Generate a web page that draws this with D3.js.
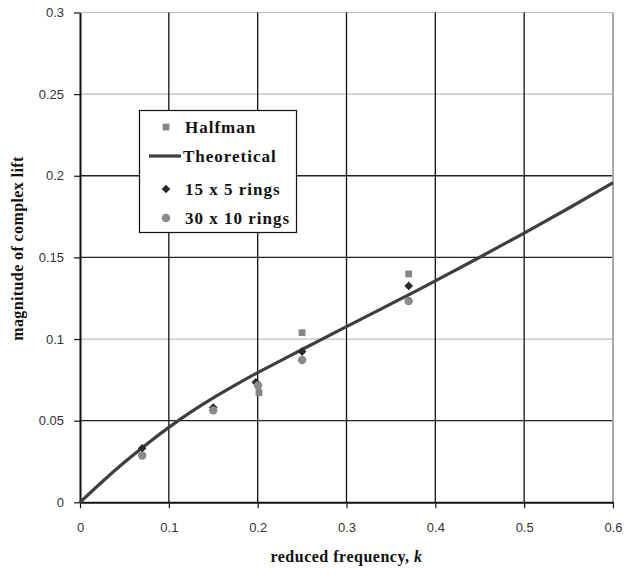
<!DOCTYPE html>
<html><head><meta charset="utf-8">
<script src="https://cdn.jsdelivr.net/npm/d3@7/dist/d3.min.js"></script>
<style>body{margin:0;background:#fff;}svg{display:block;}</style>
</head><body>
<svg id="c" width="627" height="572"></svg>
<script>
const xTicks = [0, 0.1, 0.2, 0.3, 0.4, 0.5, 0.6];
const yTicks = [0, 0.05, 0.1, 0.15, 0.2, 0.25, 0.3];
const yTickLabels = ["0", "0.05", "0.1", "0.15", "0.2", "0.25", "0.3"];
const darkGridY = [0.05, 0.15, 0.2];
const theoK = [0, 0.025, 0.05, 0.075, 0.1, 0.125, 0.15, 0.175, 0.2, 0.25, 0.3, 0.35, 0.4, 0.45, 0.5, 0.55, 0.6];
const theoV = [0, 0.0126, 0.0245, 0.0356, 0.0459, 0.0554, 0.0640, 0.0719, 0.0794, 0.0936, 0.1076, 0.1215, 0.1356, 0.1501, 0.1649, 0.1801, 0.1957];
const halfmanK = [0.2015, 0.25, 0.37];
const halfmanV = [0.0672, 0.1039, 0.1399];
const rings15K = [0.07, 0.15, 0.198, 0.25, 0.37];
const rings15V = [0.0331, 0.058, 0.0735, 0.0923, 0.1325];
const rings30K = [0.07, 0.15, 0.2005, 0.25, 0.37];
const rings30V = [0.0286, 0.0563, 0.0715, 0.0872, 0.1233];

const svg = d3.select("#c");
const L = 80, R = 613, T = 12.5, B = 502.3;
const x = d3.scaleLinear().domain([0, 0.6]).range([L, R]);
const y = d3.scaleLinear().domain([0, 0.3]).range([B, T]);

// horizontal grid
svg.append("g").selectAll("line").data(yTicks.slice(1)).join("line")
  .attr("x1", L).attr("x2", R).attr("y1", d => y(d)).attr("y2", d => y(d))
  .attr("stroke", d => darkGridY.includes(d) ? "#222" : "#bdbdbd")
  .attr("stroke-width", d => darkGridY.includes(d) ? 1.3 : 1.2);
// vertical grid
svg.append("g").selectAll("line").data(xTicks.slice(1, -1)).join("line")
  .attr("x1", d => x(d)).attr("x2", d => x(d)).attr("y1", T).attr("y2", B)
  .attr("stroke", "#111").attr("stroke-width", 1.3);
// right border
svg.append("line").attr("x1", R).attr("x2", R).attr("y1", T).attr("y2", B)
  .attr("stroke", "#a8a8a8").attr("stroke-width", 2);

// axes
const xAxis = d3.axisBottom(x).tickValues(xTicks).tickFormat(d3.format("~g")).tickSize(6).tickSizeOuter(0);
const gx = svg.append("g").attr("transform", `translate(0,${B})`).call(xAxis);
gx.select(".domain").attr("stroke", "#111").attr("stroke-width", 2);
gx.selectAll(".tick line").attr("stroke", "#111").attr("stroke-width", 1.2);
gx.selectAll(".tick text").attr("font-family", "Liberation Sans, Arial, sans-serif").attr("font-size", 13)
  .attr("fill", "#333").attr("dy", "0.71em").attr("y", 20);

const yAxis = d3.axisLeft(y).tickValues(yTicks).tickFormat((d, i) => yTickLabels[i]).tickSize(6).tickSizeOuter(0);
const gy = svg.append("g").attr("transform", `translate(${L},0)`).call(yAxis);
gy.select(".domain").attr("stroke", "#111").attr("stroke-width", 2);
gy.selectAll(".tick line").attr("stroke", "#111").attr("stroke-width", 1.2);
gy.selectAll(".tick text").attr("font-family", "Liberation Sans, Arial, sans-serif").attr("font-size", 13)
  .attr("fill", "#333").attr("x", -16);

// theoretical line
const line = d3.line().x((d, i) => x(theoK[i])).y((d, i) => y(theoV[i])).curve(d3.curveNatural);
svg.append("path").datum(theoV).attr("d", line).attr("fill", "none")
  .attr("stroke", "#3e3e3e").attr("stroke-width", 3.2);

// markers
const sq = d3.symbol().type(d3.symbolSquare).size(46);
const dia = d3.symbol().type(d3.symbolSquare).size(38);
const cir = d3.symbol().type(d3.symbolCircle).size(56);
svg.append("g").selectAll("path").data(halfmanK).join("path")
  .attr("d", sq).attr("transform", (d, i) => `translate(${x(d)},${y(halfmanV[i])})`).attr("fill", "#858585");
svg.append("g").selectAll("path").data(rings15K).join("path")
  .attr("d", dia).attr("transform", (d, i) => `translate(${x(d)},${y(rings15V[i])}) rotate(45)`).attr("fill", "#2a2a2a");
svg.append("g").selectAll("path").data(rings30K).join("path")
  .attr("d", cir).attr("transform", (d, i) => `translate(${x(d)},${y(rings30V[i])})`).attr("fill", "#8a8a8a");

// legend
const lg = svg.append("g");
lg.append("rect").attr("x", 139.5).attr("y", 110.5).attr("width", 157).attr("height", 122)
  .attr("fill", "#fff").attr("stroke", "#111").attr("stroke-width", 1.2);
const legendNames = ["Halfman", "Theoretical", "15 x 5 rings", "30 x 10 rings"];
const legendY = [127, 156, 189, 218];
const mx = 166;
lg.append("path").attr("d", sq).attr("transform", `translate(${mx},${legendY[0]})`).attr("fill", "#858585");
lg.append("line").attr("x1", 149).attr("x2", 181).attr("y1", legendY[1]).attr("y2", legendY[1])
  .attr("stroke", "#3e3e3e").attr("stroke-width", 3.2);
lg.append("path").attr("d", dia).attr("transform", `translate(${mx},${legendY[2]}) rotate(45)`).attr("fill", "#2a2a2a");
lg.append("path").attr("d", cir).attr("transform", `translate(${mx},${legendY[3]})`).attr("fill", "#8a8a8a");
lg.selectAll("text").data(legendNames).join("text")
  .attr("x", (d, i) => i === 1 ? 183 : 185).attr("y", (d, i) => legendY[i]).attr("dy", "0.35em")
  .attr("font-family", "Liberation Serif, Times New Roman, serif").attr("font-weight", "bold").attr("font-size", 17)
  .attr("letter-spacing", 1).attr("fill", "#111").text(d => d);

// axis titles
const xt = svg.append("text").attr("x", (L + R) / 2).attr("y", 562).attr("text-anchor", "middle")
  .attr("font-family", "Liberation Serif, Times New Roman, serif").attr("font-weight", "bold").attr("font-size", 16)
  .attr("letter-spacing", 0.5).attr("fill", "#111");
xt.append("tspan").text("reduced frequency, ");
xt.append("tspan").attr("font-style", "italic").text("k");

svg.append("text").attr("transform", `translate(23,248.5) rotate(-90)`).attr("text-anchor", "middle")
  .attr("font-family", "Liberation Serif, Times New Roman, serif").attr("font-weight", "bold").attr("font-size", 16)
  .attr("letter-spacing", 0.4).attr("fill", "#111")
  .text("magnitude of complex lift");
</script>
</body></html>
